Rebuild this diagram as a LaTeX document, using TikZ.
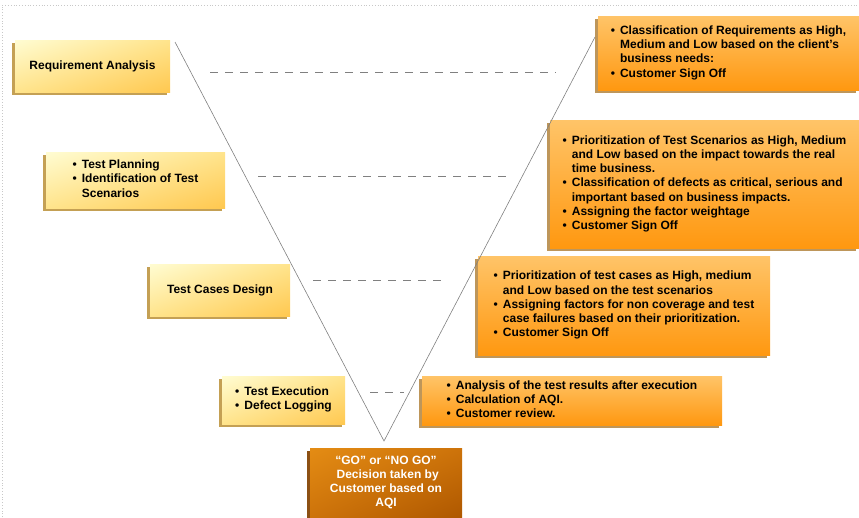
\documentclass[tikz,border=0pt]{standalone}
\usepackage{fontspec}
\setmainfont{Liberation Sans}
\usetikzlibrary{shadows,shadings}

\newcommand{\blist}[1]{\begin{tabular}{@{}l@{\hspace{5pt}}l@{}}#1\end{tabular}}

\begin{document}
\begin{tikzpicture}[x=1pt,y=-1pt,
  box/.style={anchor=north west,inner sep=0pt,outer sep=0pt,
    font=\fontsize{12}{14.2}\selectfont\bfseries,align=center},
  leftbox/.style={box,shade,upper left=lyTop,upper right=lyMid,lower left=lyMid,lower right=lyBot,
    drop shadow={shadow xshift=-3pt,shadow yshift=-3pt,fill=lyShadow,opacity=1}},
  rightbox/.style={box,shade,top color=orTop,bottom color=orBot,
    drop shadow={shadow xshift=-3pt,shadow yshift=-3pt,fill=orShadow,opacity=1}},
  endbox/.style={box,text=white,shade,upper left=dkTop,upper right=dkMid,lower left=dkMid,lower right=dkBot,
    drop shadow={shadow xshift=-3pt,shadow yshift=-3pt,fill=dkShadow,opacity=1}},
  vline/.style={draw=lineColor,line width=0.6pt},
  level/.style={draw=lineColor,line width=0.6pt,dash pattern=on 8pt off 7pt}]
\definecolor{lyTop}{RGB}{255,252,210}
\definecolor{lyMid}{RGB}{255,228,140}
\definecolor{lyBot}{RGB}{255,200,80}
\definecolor{lyShadow}{RGB}{196,160,84}
\definecolor{orTop}{RGB}{255,196,104}
\definecolor{orBot}{RGB}{255,152,16}
\definecolor{orShadow}{RGB}{190,150,90}
\definecolor{dkTop}{RGB}{228,140,20}
\definecolor{dkMid}{RGB}{205,115,10}
\definecolor{dkBot}{RGB}{175,88,0}
\definecolor{dkShadow}{RGB}{140,80,20}
\definecolor{lineColor}{RGB}{128,128,128}
\definecolor{frameColor}{RGB}{200,200,200}
\path[use as bounding box] (0,0) rectangle (859,517);

% dotted frame
\draw[frameColor,dotted,line width=0.8pt] (2,517) -- (2,5) -- (859,5);

% left side: phases
\node[leftbox,minimum width=155pt,minimum height=52pt] (req) at (15,40) {Requirement Analysis};
\node[leftbox,minimum width=179pt,minimum height=56pt] (plan) at (46,152)
  {\blist{\textbullet & Test Planning\\ \textbullet & Identification of Test\\ & Scenarios}};
\node[leftbox,minimum width=140pt,minimum height=52pt] (design) at (150,264) {Test Cases Design};
\node[leftbox,minimum width=123pt,minimum height=48pt] (exec) at (222,376)
  {\blist{\textbullet & Test Execution\\ \textbullet & Defect Logging}};

% right side: sign offs
\node[rightbox,minimum width=261pt,minimum height=74pt] (reqR) at (598,16)
  {\blist{\textbullet & Classification of Requirements as High,\\
   & Medium and Low based on the client’s\\
   & business needs:\\
   \textbullet & Customer Sign Off}};
\node[rightbox,minimum width=309pt,minimum height=128pt] (planR) at (550,120)
  {\blist{\textbullet & Prioritization of Test Scenarios as High, Medium\\
   & and Low based on the impact towards the real\\
   & time business.\\
   \textbullet & Classification of defects as critical, serious and\\
   & important based on business impacts.\\
   \textbullet & Assigning the factor weightage\\
   \textbullet & Customer Sign Off}};
\node[rightbox,minimum width=292pt,minimum height=99pt] (designR) at (478,256)
  {\blist{\textbullet & Prioritization of test cases as High, medium\\
   & and Low based on the test scenarios\\
   \textbullet & Assigning factors for non coverage and test\\
   & case failures based on their prioritization.\\
   \textbullet & Customer Sign Off}};
\node[rightbox,minimum width=300pt,minimum height=49pt] (execR) at (422,376)
  {\blist{\textbullet & Analysis of the test results after execution\\
   \textbullet & Calculation of AQI.\\
   \textbullet & Customer review.}};

% decision
\node[endbox,minimum width=152pt,minimum height=69pt] (go) at (310,448)
  {“GO” or “NO GO”\\ \ Decision taken by\\ Customer based on\\ AQI};

% the V
\coordinate (vL) at (175,42);
\coordinate (vR) at (595,37);
\coordinate (apex) at (384,441);
\draw[vline] (vL) -- (apex) -- (vR);

% level lines
\coordinate (l1a) at (210,72);  \coordinate (l1b) at (556,72);
\coordinate (l2a) at (258,176); \coordinate (l2b) at (506,176);
\coordinate (l3a) at (313,280); \coordinate (l3b) at (446,280);
\coordinate (l4a) at (370,392); \coordinate (l4b) at (404,392);
\draw[level] (l1a) -- (l1b);
\draw[level] (l2a) -- (l2b);
\draw[level] (l3a) -- (l3b);
\draw[level] (l4a) -- (l4b);
\end{tikzpicture}
\end{document}
